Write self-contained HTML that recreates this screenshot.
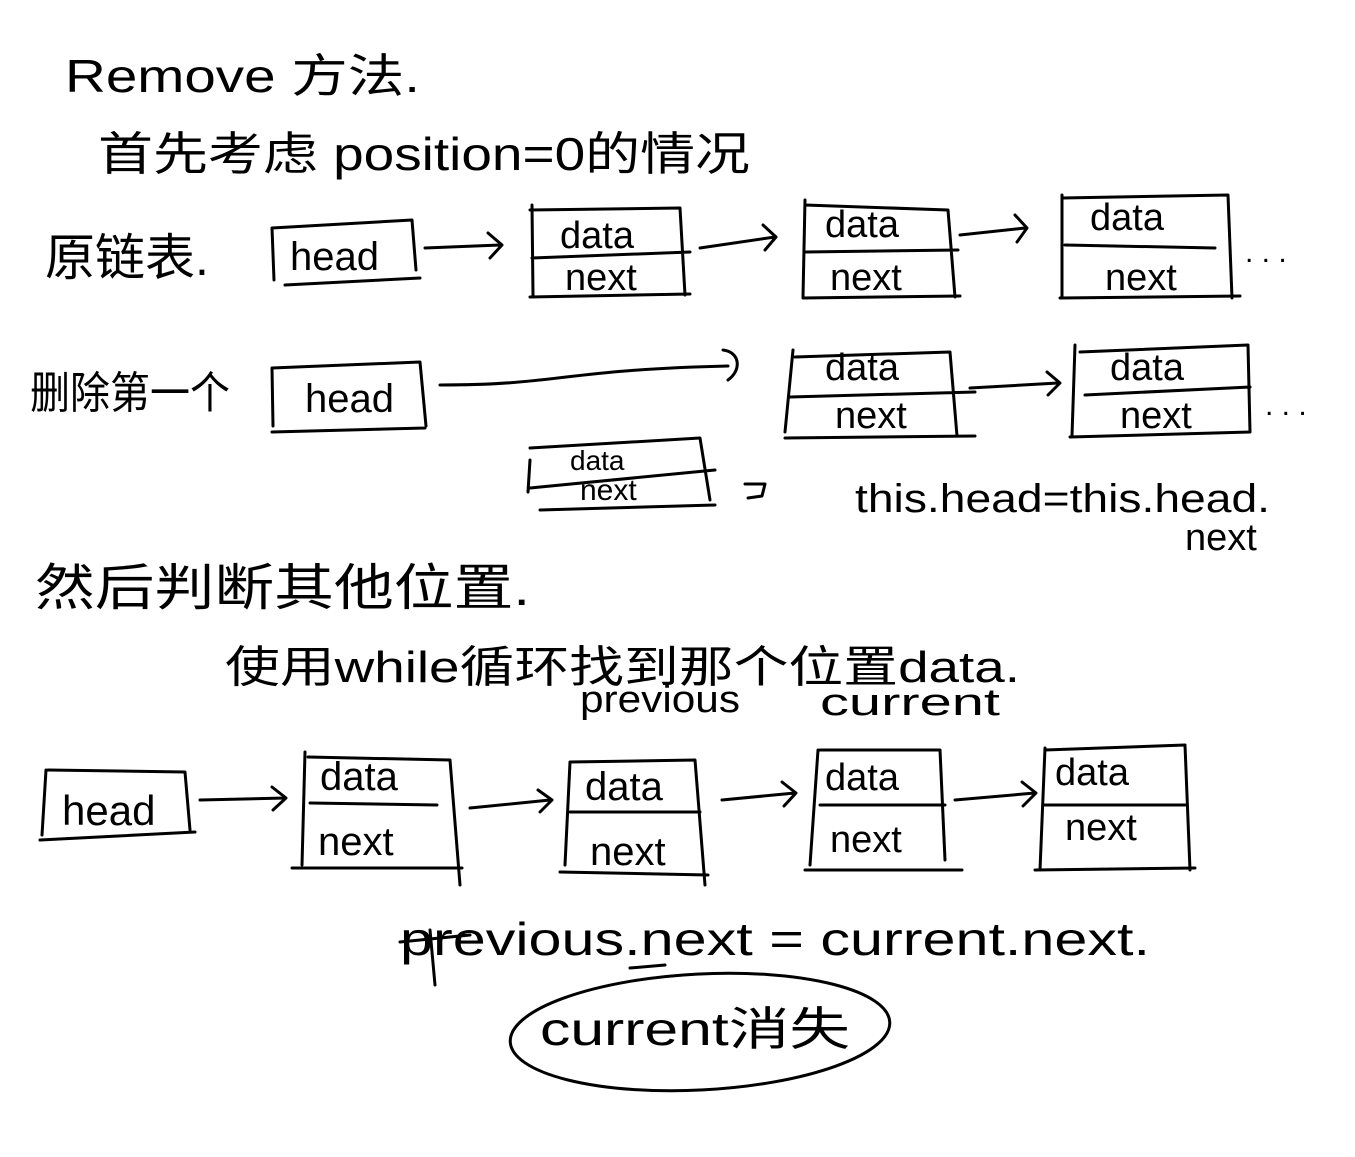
<!DOCTYPE html>
<html><head><meta charset="utf-8"><style>
html,body{margin:0;padding:0;background:#fff;}
svg{display:block}
text{font-family:"Liberation Sans","Noto Sans CJK SC",sans-serif;fill:#000}
</style></head><body>
<svg width="1355" height="1157" viewBox="0 0 1355 1157" xmlns="http://www.w3.org/2000/svg">
<g fill="none" stroke="#000" stroke-width="3" stroke-linecap="round" stroke-linejoin="round">
<path d="M272 228 L412 220 L416 270 M272 228 L274 280 M285 285 L420 278"/>
<path d="M425 248 L500 245 M488 233 L502 245 L490 258"/>
<path d="M532 205 L533 295 M530 210 L680 208 L685 295 M532 258 L690 252 M530 297 L690 294"/>
<path d="M700 248 L775 237 M763 225 L776 237 L765 250"/>
<path d="M805 200 L803 297 M805 205 L948 210 L955 297 M805 252 L958 250 M803 298 L960 296"/>
<path d="M960 235 L1025 228 M1015 215 L1027 228 L1017 242"/>
<path d="M1062 195 L1062 298 M1062 198 L1228 195 L1232 298 M1065 245 L1215 248 M1060 298 L1240 296"/>
<path d="M272 368 L420 362 L426 426 M272 368 L273 426 M272 432 L425 428"/>
<path d="M440 385 C560 385 560 370 728 366 M723 350 C740 352 742 370 728 380"/>
<path d="M793 350 L785 432 M795 357 L950 352 L957 436 M790 397 L975 392 M785 438 L975 436"/>
<path d="M970 388 L1058 383 M1047 372 L1060 383 L1048 395"/>
<path d="M1075 345 L1072 436 M1080 352 L1248 345 L1250 432 M1085 395 L1250 387 M1070 437 L1250 432"/>
<path d="M530 448 L700 438 L710 500 M530 460 L528 492 M530 488 L715 470 M540 510 L715 505"/>
<path d="M745 484 L765 484 L762 496 L748 498"/>
<path d="M48 770 L185 772 L190 830 M46 770 L42 835 M40 840 L195 832"/>
<path d="M200 800 L285 798 M272 787 L286 798 L273 810"/>
<path d="M305 752 L302 865 M308 757 L450 760 L460 885 M310 803 L437 805 M292 868 L462 868"/>
<path d="M470 808 L550 800 M538 790 L552 800 L540 812"/>
<path d="M570 762 L565 865 M570 762 L695 760 L705 885 M570 812 L700 812 M560 872 L708 875"/>
<path d="M722 800 L795 793 M782 782 L796 793 L784 806"/>
<path d="M818 750 L810 865 M820 750 L940 750 L945 860 M820 805 L945 805 M805 870 L962 870"/>
<path d="M955 800 L1035 793 M1022 782 L1036 793 L1023 806"/>
<path d="M1045 748 L1040 870 M1045 750 L1185 745 L1190 870 M1045 805 L1185 805 M1035 870 L1195 868"/>
<path d="M400 942 L470 935 M430 930 L435 985 M630 968 L665 965"/>
<ellipse cx="700" cy="1032" rx="190" ry="58" transform="rotate(-3 700 1032)"/>
</g>
<text x="65" y="92" font-size="46" textLength="355" lengthAdjust="spacingAndGlyphs">Remove 方法.</text>
<text x="98" y="170" font-size="46" textLength="652" lengthAdjust="spacingAndGlyphs">首先考虑 position=0的情况</text>
<text x="45" y="275" font-size="50">原链表.</text>
<text x="290" y="270" font-size="40">head</text>
<text x="560" y="248" font-size="38">data</text>
<text x="565" y="290" font-size="38">next</text>
<text x="825" y="237" font-size="38">data</text>
<text x="830" y="290" font-size="38">next</text>
<text x="1090" y="230" font-size="38">data</text>
<text x="1105" y="290" font-size="38">next</text>
<text x="1245" y="262" font-size="30">. . .</text>
<text x="30" y="408" font-size="44" textLength="200" lengthAdjust="spacingAndGlyphs">删除第一个</text>
<text x="305" y="412" font-size="40">head</text>
<text x="825" y="380" font-size="38">data</text>
<text x="835" y="428" font-size="38">next</text>
<text x="1110" y="380" font-size="38">data</text>
<text x="1120" y="428" font-size="38">next</text>
<text x="1265" y="415" font-size="30">. . .</text>
<text x="570" y="470" font-size="28">data</text>
<text x="580" y="500" font-size="30">next</text>
<text x="855" y="512" font-size="40" textLength="415" lengthAdjust="spacingAndGlyphs">this.head=this.head.</text>
<text x="1185" y="550" font-size="38">next</text>
<text x="35" y="605" font-size="50" textLength="495" lengthAdjust="spacingAndGlyphs">然后判断其他位置.</text>
<text x="225" y="682" font-size="44" textLength="795" lengthAdjust="spacingAndGlyphs">使用while循环找到那个位置data.</text>
<text x="580" y="712" font-size="38" textLength="160" lengthAdjust="spacingAndGlyphs">previous</text>
<text x="820" y="715" font-size="38" textLength="180" lengthAdjust="spacingAndGlyphs">current</text>
<text x="62" y="825" font-size="42">head</text>
<text x="320" y="790" font-size="40">data</text>
<text x="318" y="855" font-size="40">next</text>
<text x="585" y="800" font-size="40">data</text>
<text x="590" y="865" font-size="40">next</text>
<text x="825" y="790" font-size="38">data</text>
<text x="830" y="852" font-size="38">next</text>
<text x="1055" y="785" font-size="38">data</text>
<text x="1065" y="840" font-size="38">next</text>
<text x="400" y="955" font-size="46" textLength="750" lengthAdjust="spacingAndGlyphs">previous.next = current.next.</text>
<text x="540" y="1045" font-size="46" textLength="310" lengthAdjust="spacingAndGlyphs">current消失</text>
</svg>
</body></html>
